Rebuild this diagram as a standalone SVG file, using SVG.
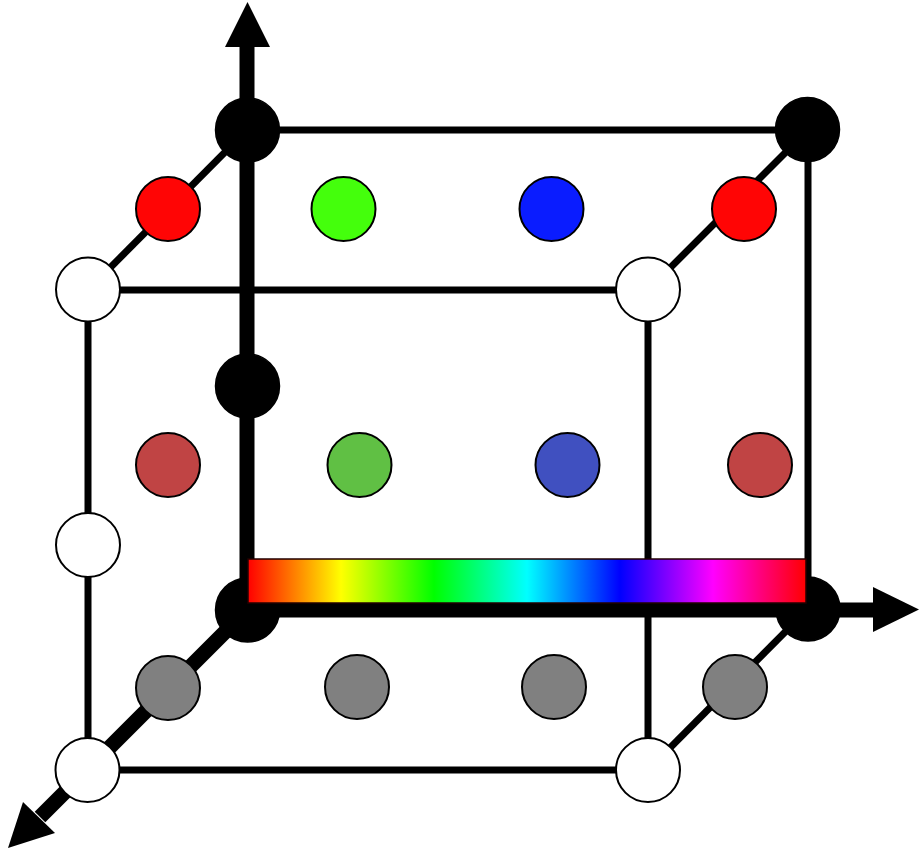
<svg xmlns="http://www.w3.org/2000/svg" width="923" height="855" viewBox="0 0 923 855">
<style>
.thin{stroke:#000;stroke-width:7;fill:none}
.thick{stroke:#000;stroke-width:15;fill:none}
.blk{fill:#000;stroke:#000;stroke-width:1.5}
.wht{fill:#fff;stroke:#000;stroke-width:2}
.dot{stroke:#000;stroke-width:2}
.head{fill:#000}
</style>
<defs>
<linearGradient id="spec" x1="0" y1="0" x2="1" y2="0">
<stop offset="0" stop-color="#ff0000"/>
<stop offset="0.1667" stop-color="#ffff00"/>
<stop offset="0.3333" stop-color="#00ff00"/>
<stop offset="0.5" stop-color="#00ffff"/>
<stop offset="0.6667" stop-color="#0000ff"/>
<stop offset="0.8333" stop-color="#ff00ff"/>
<stop offset="1" stop-color="#ff0000"/>
</linearGradient>
</defs>
<g id="connectors">
<line class="thin" x1="247" y1="130" x2="808" y2="130"/>
<line class="thin" x1="247" y1="130" x2="88" y2="290"/>
<line class="thin" x1="808" y1="130" x2="648" y2="290"/>
<line class="thin" x1="88" y1="290" x2="648" y2="290"/>
<line class="thin" x1="88" y1="290" x2="88" y2="770"/>
<line class="thin" x1="648" y1="290" x2="648" y2="770"/>
<line class="thin" x1="808" y1="130" x2="808" y2="609"/>
<line class="thin" x1="88" y1="770" x2="648" y2="770"/>
<line class="thin" x1="808" y1="609" x2="648" y2="770"/>
<line class="thick" x1="247" y1="45" x2="247" y2="610"/>
<line class="thick" x1="247" y1="610" x2="875" y2="610"/>
<line class="thick" x1="247" y1="610" x2="40" y2="817"/>
<polygon class="head" points="247.5,2 270,47 225,47"/>
<polygon class="head" points="919,609.5 873,587 873,632"/>
<polygon class="head" points="8,848 23,802 55,833"/>
</g>
<g id="n-black-tl"><circle class="blk" cx="247.5" cy="130" r="32"/></g>
<g id="n-black-tr"><circle class="blk" cx="807.5" cy="129.5" r="32"/></g>
<g id="n-black-ml"><circle class="blk" cx="247.5" cy="386" r="32"/></g>
<g id="n-black-bl"><circle class="blk" cx="247.5" cy="610" r="32"/></g>
<g id="n-black-br"><circle class="blk" cx="808" cy="609" r="32"/></g>
<g id="n-white-tl"><circle class="wht" cx="88" cy="289.5" r="32"/></g>
<g id="n-white-tr"><circle class="wht" cx="648" cy="289.5" r="32"/></g>
<g id="n-white-ml"><circle class="wht" cx="88" cy="545" r="32"/></g>
<g id="n-white-bl"><circle class="wht" cx="87.5" cy="770" r="32"/></g>
<g id="n-white-br"><circle class="wht" cx="648" cy="770" r="32"/></g>
<g id="n-red-1"><circle class="dot" fill="#ff0505" cx="168" cy="209" r="32"/></g>
<g id="n-green-1"><circle class="dot" fill="#44ff0c" cx="343.5" cy="209" r="32"/></g>
<g id="n-blue-1"><circle class="dot" fill="#0a1cff" cx="551.5" cy="209" r="32"/></g>
<g id="n-red-2"><circle class="dot" fill="#ff0505" cx="744" cy="209" r="32"/></g>
<g id="n-red-3"><circle class="dot" fill="#c04444" cx="168" cy="465" r="32"/></g>
<g id="n-green-3"><circle class="dot" fill="#60c044" cx="359.5" cy="465" r="32"/></g>
<g id="n-blue-3"><circle class="dot" fill="#4050c0" cx="567.5" cy="465" r="32"/></g>
<g id="n-red-4"><circle class="dot" fill="#c04444" cx="760" cy="465" r="32"/></g>
<g id="n-gray-1"><circle class="dot" fill="#808080" cx="168" cy="688" r="32"/></g>
<g id="n-gray-2"><circle class="dot" fill="#808080" cx="357" cy="687" r="32"/></g>
<g id="n-gray-3"><circle class="dot" fill="#808080" cx="554" cy="687" r="32"/></g>
<g id="n-gray-4"><circle class="dot" fill="#808080" cx="735" cy="687" r="32"/></g>
<g id="spectrum"><rect x="248" y="559" width="558" height="44" fill="url(#spec)" stroke="#200" stroke-width="1.5"/></g>
</svg>
